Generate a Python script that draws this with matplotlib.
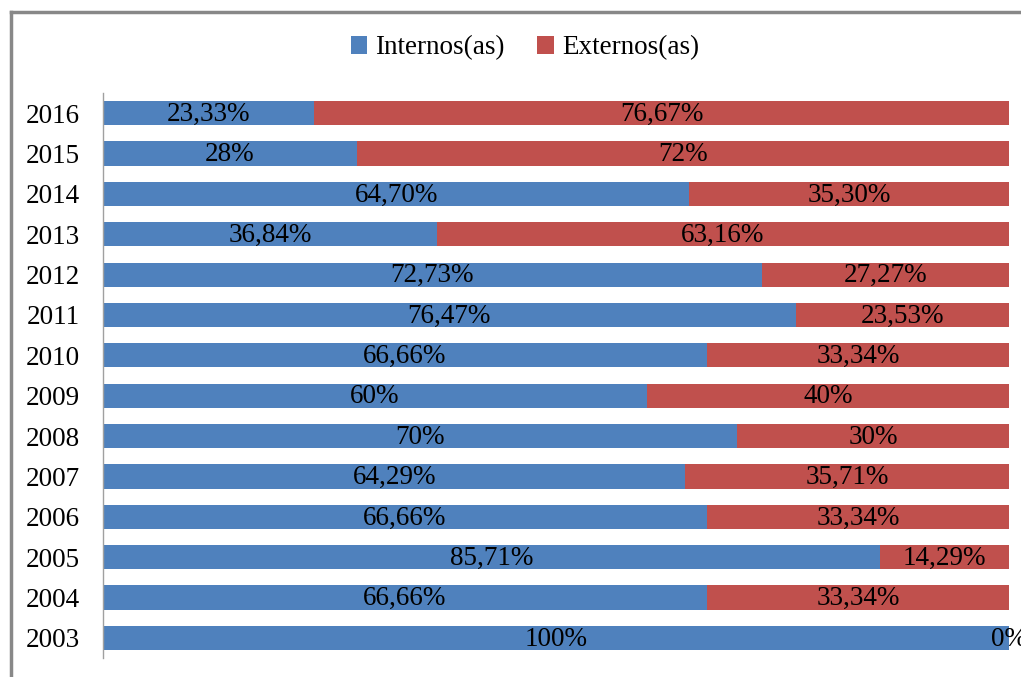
import matplotlib
matplotlib.use("Agg")
import matplotlib.pyplot as plt
from matplotlib.lines import Line2D
from matplotlib.patches import Patch

plt.rcParams['font.family'] = ['Liberation Serif', 'DejaVu Serif']

years = ["2003", "2004", "2005", "2006", "2007", "2008", "2009", "2010",
         "2011", "2012", "2013", "2014", "2015", "2016"]
internos = [100, 66.66, 85.71, 66.66, 64.29, 70, 60, 66.66, 76.47, 72.73, 36.84, 64.70, 28, 23.33]
externos = [0, 33.34, 14.29, 33.34, 35.71, 30, 40, 33.34, 23.53, 27.27, 63.16, 35.30, 72, 76.67]
series_names = ["Internos(as)", "Externos(as)"]

BLUE = "#4F81BD"
RED = "#C0504D"


def fmt(v):
    if abs(v - round(v)) < 1e-9:
        return "%d%%" % round(v)
    return ("%.2f%%" % v).replace(".", ",")


fig = plt.figure(figsize=(10.21, 6.77), dpi=100)
ax = fig.add_axes([103 / 1021, 1 - 658 / 677, (1009 - 103) / 1021, (658 - 93) / 677])

ypos = list(range(len(years)))
ax.barh(ypos, internos, height=0.6, color=BLUE, label=series_names[0])
ax.barh(ypos, externos, left=internos, height=0.6, color=RED, label=series_names[1])

for y, a, b in zip(ypos, internos, externos):
    ax.text(a / 2, y - 0.03, fmt(a), ha='center', va='center', fontsize=19.5, color='black')
    ax.text(a + b / 2, y - 0.03, fmt(b), ha='center', va='center', fontsize=19.5,
            color='black', clip_on=False)

ax.set_xlim(0, 100)
ax.set_ylim(-0.5, len(years) - 0.5)
ax.set_yticks(ypos)
ax.set_yticklabels(years, fontsize=19.5)
ax.tick_params(axis='y', length=0, pad=16.5)
ax.set_xticks([])
for s in ['top', 'right', 'bottom']:
    ax.spines[s].set_visible(False)
ax.spines['left'].set_color('#A0A0A0')
ax.spines['left'].set_linewidth(1)

handles = [Patch(facecolor=BLUE), Patch(facecolor=RED)]
fig.legend(handles, series_names, loc='center', bbox_to_anchor=(525 / 1021, 1 - 48 / 677),
           ncol=2, frameon=False, fontsize=19.5, handlelength=0.6, handleheight=0.6,
           handletextpad=0.3, columnspacing=1.2)

# outer frame
fig.add_artist(Line2D([10.5 / 1021, 10.5 / 1021], [0, 1 - 12 / 677], color='#888888', lw=2.5,
                      transform=fig.transFigure))
fig.add_artist(Line2D([10.5 / 1021, 1], [1 - 12 / 677, 1 - 12 / 677], color='#888888', lw=2.5,
                      transform=fig.transFigure))

fig.savefig("out.png", dpi=100)
